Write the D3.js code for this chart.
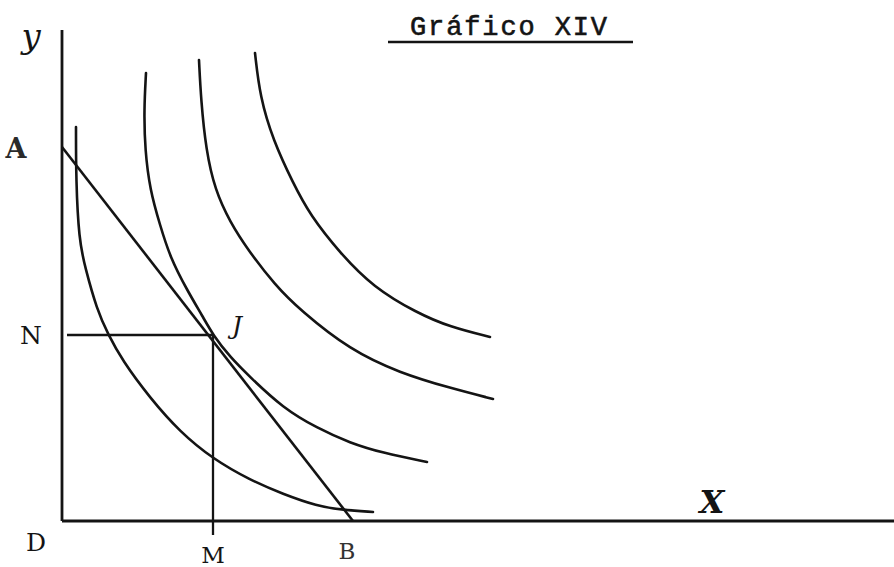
<!DOCTYPE html>
<html>
<head>
<meta charset="utf-8">
<script src="https://cdn.jsdelivr.net/npm/d3@7"></script>
<style>
  html, body { margin: 0; padding: 0; background: #fff; }
  svg { display: block; }
</style>
</head>
<body>
<svg id="chart" width="894" height="567"></svg>
<script>
// ---- data (units: quantity of X, quantity of Y) ----
const title = "Gráfico XIV";
const axisLabels = { x: "X", y: "y" };
const pointLabels = { origin: "D", A: "A", B: "B", N: "N", M: "M", J: "J" };

const curve1 = [[1.4,39.4],[1.4,34.1],[1.7,28.1],[2.3,25.4],[3.5,21.1],[4.6,18.7],[6.0,16.1],[8.8,12.3],[11.8,8.9],[15.1,6.2],[18.8,4.1],[22.1,2.7],[25.5,1.5],[28.1,1.1],[31.1,0.9]];
const curve2 = [[8.4,44.8],[8.2,41.1],[8.3,37.1],[8.8,33.1],[9.8,29.6],[10.8,26.4],[12.5,23.1],[14.1,20.4],[15.1,18.6],[16.8,16.4],[18.8,14.4],[22.1,11.3],[25.5,9.3],[28.8,7.8],[32.1,6.8],[36.5,5.9]];
const curve3 = [[13.7,46.1],[13.9,42.1],[14.4,37.1],[15.3,33.1],[16.8,29.9],[18.6,27.1],[21.3,23.6],[23.8,21.1],[28.8,17.1],[33.8,14.8],[38.8,13.3],[43.1,12.2]];
const curve4 = [[19.3,46.8],[19.8,42.4],[21.1,38.1],[23.1,33.8],[24.8,30.6],[27.8,26.8],[31.1,23.4],[35.5,20.8],[38.8,19.4],[42.8,18.4]];
const indifferenceCurves = [curve1, curve2, curve3, curve4];

const budgetA = [0, 37.4];   // intercept on Y axis
const budgetB = [29.1, 0];   // intercept on X axis
const equilibrium = [15.1, 18.6]; // point J (M, N)

const xMax = 83.2, yMax = 52.1, yAxisTop = 49.1;

// ---- layout ----
const svg = d3.select("#chart");
const x = d3.scaleLinear().domain([0, xMax]).range([62, 894]);
const y = d3.scaleLinear().domain([0, yMax]).range([521, 0]);
const ink = "#141414";

// axes
svg.append("line").attr("x1", x(0)).attr("x2", x(0)).attr("y1", y(0)).attr("y2", y(yAxisTop))
  .attr("stroke", ink).attr("stroke-width", 2.8);
svg.append("line").attr("x1", x(0)).attr("x2", x(xMax)).attr("y1", y(0)).attr("y2", y(0))
  .attr("stroke", ink).attr("stroke-width", 2.8);

// indifference curves
const line = d3.line().x(d => x(d[0])).y(d => y(d[1])).curve(d3.curveBasis);
svg.selectAll("path.ic").data(indifferenceCurves).join("path")
  .attr("class", "ic").attr("d", line)
  .attr("fill", "none").attr("stroke", ink).attr("stroke-width", 2.6)
  .attr("stroke-linecap", "round");

// budget line A-B
svg.append("line")
  .attr("x1", x(budgetA[0])).attr("y1", y(budgetA[1]))
  .attr("x2", x(budgetB[0])).attr("y2", y(budgetB[1]))
  .attr("stroke", ink).attr("stroke-width", 2.6);

// N and M guide lines
svg.append("line").attr("x1", x(0.5)).attr("x2", x(equilibrium[0]))
  .attr("y1", y(equilibrium[1])).attr("y2", y(equilibrium[1]))
  .attr("stroke", ink).attr("stroke-width", 2.3);
svg.append("line").attr("x1", x(equilibrium[0])).attr("x2", x(equilibrium[0]))
  .attr("y1", y(equilibrium[1])).attr("y2", y(0) + 14)
  .attr("stroke", ink).attr("stroke-width", 2.3);

// labels
const hand = "'DejaVu Serif', serif";
function lab(txt, px, py, size, extra) {
  const t = svg.append("text").attr("x", px).attr("y", py).text(txt)
    .attr("font-family", hand).attr("font-size", size).attr("fill", ink)
    .attr("text-anchor", "middle");
  if (extra) extra(t);
  return t;
}
lab(axisLabels.y, 31, 48, 34, t => t.attr("font-style", "italic"));
lab(pointLabels.A, 16, y(budgetA[1]) + 11, 27, t => t.attr("font-weight", "bold").attr("fill", "#2a2a2a"));
lab(pointLabels.N, 31, y(equilibrium[1]) + 9, 25);
lab(pointLabels.origin, 36, y(0) + 30, 25);
lab(pointLabels.M, x(equilibrium[0]), y(0) + 42, 23);
lab(pointLabels.B, x(budgetB[0]) - 6, y(0) + 38, 23, t => t.attr("fill", "#333"));
lab(pointLabels.J, x(equilibrium[0]) + 24, y(equilibrium[1]) - 1, 25, t => t.attr("font-style", "italic"));
lab(axisLabels.x, 712, y(0) - 8, 32, t => t.attr("font-style", "italic").attr("font-weight", "bold"));

// title
svg.append("text").attr("x", 410).attr("y", 35).text(title)
  .attr("font-family", "'Liberation Mono', 'DejaVu Sans Mono', monospace")
  .attr("font-size", 27).attr("fill", ink)
  .attr("stroke", ink).attr("stroke-width", 0.6)
  .attr("textLength", 197).attr("lengthAdjust", "spacing");
svg.append("line").attr("x1", 388).attr("x2", 633).attr("y1", 42).attr("y2", 42)
  .attr("stroke", ink).attr("stroke-width", 2.4);
</script>
</body>
</html>
